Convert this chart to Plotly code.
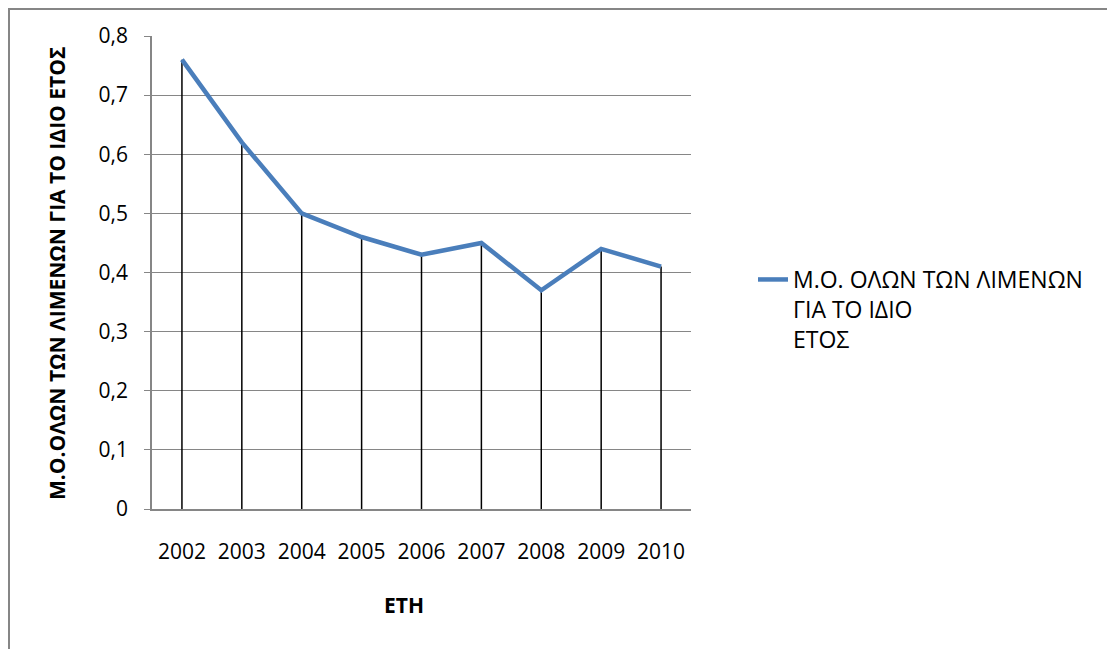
import plotly.graph_objects as go

years = ["2002", "2003", "2004", "2005", "2006", "2007", "2008", "2009", "2010"]
values = [0.76, 0.62, 0.50, 0.46, 0.43, 0.45, 0.37, 0.44, 0.41]
series_name = "Μ.Ο. ΟΛΩΝ ΤΩΝ ΛΙΜΕΝΩΝ<br>ΓΙΑ ΤΟ ΙΔΙΟ<br>ΕΤΟΣ"
y_title = "Μ.Ο.ΟΛΩΝ ΤΩΝ ΛΙΜΕΝΩΝ ΓΙΑ ΤΟ ΙΔΙΟ ΕΤΟΣ"
x_title = "ΕΤΗ"
y_ticks = [0, 0.1, 0.2, 0.3, 0.4, 0.5, 0.6, 0.7, 0.8]

FONT = "Open Sans"
GRID = "#868686"
W, H = 1115, 649
OFF = 8  # page body margin
L, R, T, B = 152 - OFF, 691 - OFF, 36 - OFF, 509 - OFF


def px(x):
    return (x - OFF - L) / (R - L)


def py(y):
    return (B - (y - OFF)) / (B - T)


drop_x, drop_y = [], []
for yr, v in zip(years, values):
    drop_x += [yr, yr, None]
    drop_y += [0, v, None]

fig = go.Figure()
fig.add_trace(go.Scatter(x=drop_x, y=drop_y, mode="lines",
                         line=dict(color="black", width=1.5),
                         showlegend=False, hoverinfo="skip"))
fig.add_trace(go.Scatter(x=years, y=values, mode="lines", name=series_name,
                         line=dict(color="#4A7EBB", width=4.5)))

fig.update_layout(
    width=W, height=H,
    margin=dict(l=L, r=W - R, t=T, b=H - B, pad=0),
    paper_bgcolor="white", plot_bgcolor="white",
    separators=", ",
    font=dict(family=FONT, size=21, color="black"),
    showlegend=True,
    legend=dict(x=px(753), xanchor="left", y=py(258), yanchor="top",
                valign="top", font=dict(family=FONT, size=23, color="black"),
                bgcolor="rgba(0,0,0,0)", tracegroupgap=0),
    xaxis=dict(type="category", categoryorder="array", categoryarray=years,
               range=[-0.5, len(years) - 0.5], showgrid=False, showline=True,
               linecolor=GRID, linewidth=1.5, ticks="", ticklabelstandoff=23,
               tickfont=dict(family=FONT, size=21, color="black"), zeroline=False),
    yaxis=dict(range=[0, 0.8], tickvals=y_ticks, showgrid=True, gridcolor=GRID,
               gridwidth=1.3, showline=True, linecolor=GRID, linewidth=1.5,
               ticks="outside", ticklen=6, tickcolor=GRID, tickwidth=1.3,
               ticklabelstandoff=12, zeroline=False,
               tickfont=dict(family=FONT, size=21, color="black")),
    annotations=[
        dict(text=f"<b>{y_title}</b>", textangle=-90, xref="paper", yref="paper",
             x=px(57), y=py(274), xanchor="center", yanchor="middle",
             showarrow=False, font=dict(family=FONT, size=21, color="black")),
        dict(text=f"<b>{x_title}</b>", xref="paper", yref="paper",
             x=px(404), y=py(605), xanchor="center", yanchor="middle",
             showarrow=False, font=dict(family=FONT, size=21, color="black")),
    ],
    shapes=[
        dict(type="line", xref="paper", yref="paper",
             x0=px(8), x1=px(W + 20), y0=py(9), y1=py(9),
             line=dict(color=GRID, width=2)),
        dict(type="line", xref="paper", yref="paper",
             x0=px(9), x1=px(9), y0=py(9), y1=py(H + 20),
             line=dict(color=GRID, width=2)),
    ],
)

fig.write_html("out.html")
